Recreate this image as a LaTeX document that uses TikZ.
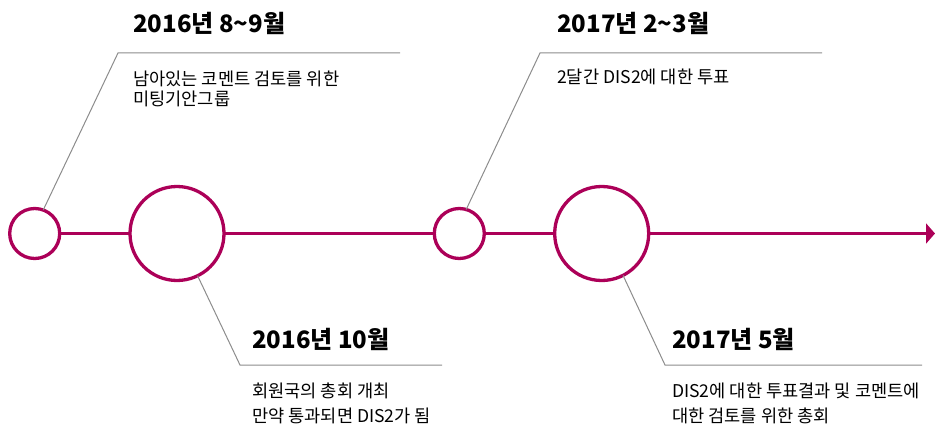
\documentclass[tikz,border=0pt]{standalone}
\usepackage{fontspec}
\setmainfont{Noto Sans CJK KR}
\usetikzlibrary{arrows.meta}
\definecolor{tlred}{RGB}{172,0,88}
\definecolor{leadgray}{RGB}{140,140,140}
\tikzset{
  smallc/.style={circle,draw=tlred,line width=3.3pt,fill=white,inner sep=0pt,outer sep=0pt,minimum size=50pt},
  bigc/.style={circle,draw=tlred,line width=3.3pt,fill=white,inner sep=0pt,outer sep=0pt,minimum size=94pt},
  axis/.style={draw=tlred,line width=3.3pt},
  lead/.style={draw=leadgray,line width=1pt},
  head/.style={anchor=base west,inner sep=0pt,font=\fontsize{24}{27}\selectfont\bfseries},
  body/.style={anchor=base west,inner sep=0pt,font=\fontsize{17.6}{21}\selectfont}
}
\begin{document}
\begin{tikzpicture}[x=1pt,y=-1pt]
\useasboundingbox (0,0) rectangle (935,428);
% circles
\node[smallc] (c1) at (34.7,233.5) {};
\node[bigc]   (c2) at (177,233.5) {};
\node[smallc] (c3) at (459.3,233.5) {};
\node[bigc]   (c4) at (601.7,233.5) {};
\coordinate (tip) at (935,233.5);
% axis
\draw[axis] (c1) -- (c2);
\draw[axis] (c2) -- (c3);
\draw[axis] (c3) -- (c4);
\draw[axis,-{Triangle[length=9pt,width=20pt]}] (c4) -- (tip);
% leader lines
\coordinate (k1) at (118,53);   \coordinate (e1) at (400,53);
\coordinate (k2) at (240,365);  \coordinate (e2) at (442,365);
\coordinate (k3) at (540,53);   \coordinate (e3) at (822,53);
\coordinate (k4) at (665,365);  \coordinate (e4) at (922,365);
\draw[lead] (c1.70) -- (k1) -- (e1);
\draw[lead] (c2.-64) -- (k2) -- (e2);
\draw[lead] (c3.74) -- (k3) -- (e3);
\draw[lead] (c4.-63) -- (k4) -- (e4);
% texts
\node[head] (h1) at (133,33) {2016년 8\textasciitilde9월};
\node[body] (t1a) at (133,85) {남아있는 코멘트 검토를 위한};
\node[body] (t1b) at (133,106) {미팅기안그룹};
\node[head] (h2) at (252,348) {2016년 10월};
\node[body] (t2a) at (252,397) {회원국의 총회 개최};
\node[body] (t2b) at (252,422) {만약 통과되면 DIS2가 됨};
\node[head] (h3) at (557,33) {2017년 2\textasciitilde3월};
\node[body] (t3a) at (557,84) {2달간 DIS2에 대한 투표};
\node[head] (h4) at (672,348) {2017년 5월};
\node[body] (t4a) at (672,397) {DIS2에 대한 투표결과 및 코멘트에};
\node[body] (t4b) at (672,422) {대한 검토를 위한 총회};
\end{tikzpicture}
\end{document}
